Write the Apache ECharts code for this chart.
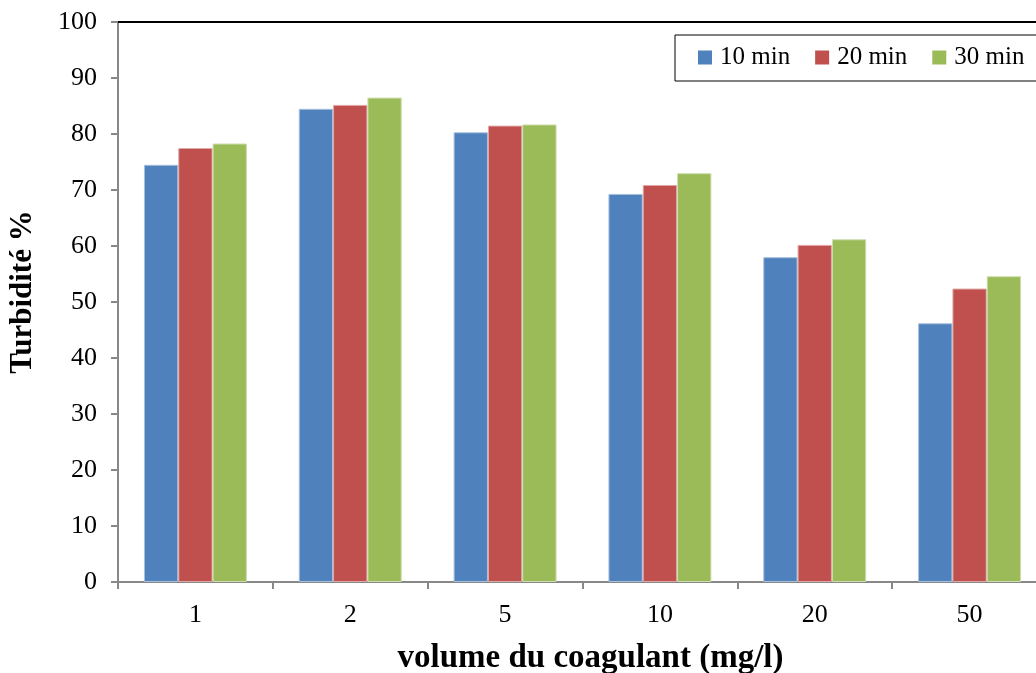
<!DOCTYPE html>
<html>
<head>
<meta charset="utf-8">
<script src="https://cdn.jsdelivr.net/npm/echarts@6/dist/echarts.min.js"></script>
<style>
  html, body { margin: 0; padding: 0; background: #fff; }
  #chart { width: 1036px; height: 673px; }
</style>
</head>
<body>
<div id="chart"></div>
<script>
// Coagulant dose (mg/l) on the category axis
const categories = ['1', '2', '5', '10', '20', '50'];
const seriesNames = ['10 min', '20 min', '30 min'];
// Turbidity removal (%) per settling time
const values10 = [74.5, 84.5, 80.3, 69.3, 58.0, 46.2];
const values20 = [77.5, 85.2, 81.5, 70.9, 60.2, 52.4];
const values30 = [78.3, 86.5, 81.7, 73.0, 61.2, 54.6];
const yTicks = [0, 10, 20, 30, 40, 50, 60, 70, 80, 90, 100];

const colors = ['#4F81BD', '#C0504D', '#9BBB59'];
const edges = ['#A7C0DE', '#E0A8A6', '#CDDDAC'];
const font = '"Liberation Serif", "Times New Roman", serif';

const chart = echarts.init(document.getElementById('chart'), null, { renderer: 'canvas' });

const seriesData = [values10, values20, values30];

chart.setOption({
  animation: false,
  backgroundColor: '#ffffff',
  textStyle: { fontFamily: font, color: '#000' },
  grid: { left: 118, top: 22, width: 929, height: 560, containLabel: false, outerBoundsMode: 'none' },
  legend: {
    data: seriesNames,
    left: 675,
    top: 35,
    width: 420,
    orient: 'horizontal',
    itemWidth: 14,
    itemHeight: 14,
    itemGap: 25,
    icon: 'rect',
    padding: [10, 40, 11, 23],
    borderColor: '#000',
    borderWidth: 1,
    itemStyle: { borderWidth: 0 },
    textStyle: { fontFamily: font, fontSize: 25, color: '#000', padding: [0, 0, 0, 3] }
  },
  xAxis: [{
    type: 'category',
    data: categories,
    position: 'bottom',
    name: 'volume du coagulant (mg/l)',
    nameLocation: 'middle',
    nameGap: 60,
    nameTextStyle: { fontFamily: font, fontSize: 33, fontWeight: 'bold', color: '#000', padding: [0, 0, 0, 16] },
    axisLine: { show: true, lineStyle: { color: '#888', width: 2 } },
    axisTick: { show: true, alignWithLabel: false, length: 7, lineStyle: { color: '#888', width: 2 } },
    axisLabel: { fontFamily: font, fontSize: 26, color: '#000', margin: 20 },
    splitLine: { show: false }
  }, {
    type: 'category',
    data: categories,
    position: 'top',
    axisLine: { show: true, lineStyle: { color: '#000', width: 2 } },
    axisTick: { show: false },
    axisLabel: { show: false },
    splitLine: { show: false }
  }],
  yAxis: {
    type: 'value',
    min: yTicks[0],
    max: yTicks[yTicks.length - 1],
    interval: 10,
    name: 'Turbidité %',
    nameLocation: 'middle',
    nameGap: 80,
    nameRotate: 90,
    nameTextStyle: { fontFamily: font, fontSize: 31, fontWeight: 'bold', color: '#000', padding: [0, 0, 0, 20] },
    axisLine: { show: true, lineStyle: { color: '#888', width: 2 } },
    axisTick: { show: true, inside: false, length: 7, lineStyle: { color: '#888', width: 2 } },
    axisLabel: { fontFamily: font, fontSize: 26, color: '#000', margin: 21 },
    splitLine: { show: false }
  },
  series: seriesNames.map((name, i) => ({
    name: name,
    type: 'bar',
    xAxisIndex: 0,
    data: seriesData[i],
    barGap: '0%',
    barCategoryGap: '33.5%',
    itemStyle: { color: colors[i], borderColor: edges[i], borderWidth: 1 },
    emphasis: { disabled: true }
  }))
});
</script>
</body>
</html>
